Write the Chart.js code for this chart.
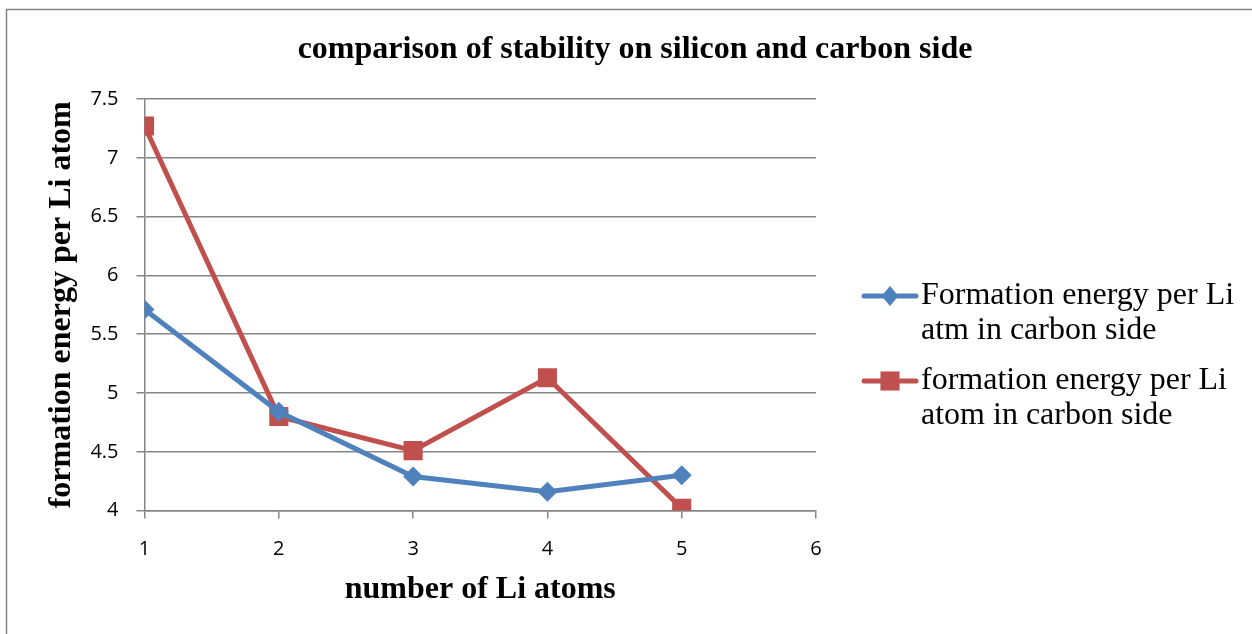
<!DOCTYPE html>
<html>
<head>
<meta charset="utf-8">
<script src="https://cdn.jsdelivr.net/npm/chart.js@4/dist/chart.umd.min.js"></script>
<style>
  html, body { margin: 0; padding: 0; background: #fff; }
  #wrap { width: 1252px; height: 634px; position: relative; }
</style>
</head>
<body>
<div id="wrap"><canvas id="c" width="1252" height="634"></canvas></div>
<script>
const chartTitle = "comparison of stability on silicon and carbon side";
const xTitle = "number of Li atoms";
const yTitle = "formation energy per Li atom";
const liAtoms = [1, 2, 3, 4, 5];
const carbonSideAtm = [5.71, 4.84, 4.29, 4.16, 4.30];
const carbonSideAtom = [7.27, 4.80, 4.51, 5.13, 4.02];
const seriesNames = [
  ["Formation energy per Li", "atm in carbon side"],
  ["formation energy per Li", "atom in carbon side"]
];
const xTicks = [1, 2, 3, 4, 5, 6];
const yTicks = [4, 4.5, 5, 5.5, 6, 6.5, 7, 7.5];

const BLUE = "#4F81BD";
const RED = "#C0504D";
const GRID = "#868686";
const SERIF = "'Liberation Serif', 'Times New Roman', serif";
const SANS = "'Open Sans', 'Liberation Sans', sans-serif";

const borderPlugin = {
  id: 'outerBorder',
  beforeDraw(chart) {
    const ctx = chart.ctx;
    ctx.save();
    ctx.fillStyle = '#fff';
    ctx.fillRect(0, 0, chart.width, chart.height);
    ctx.strokeStyle = '#868686';
    ctx.lineWidth = 1.5;
    ctx.strokeRect(6.5, 9.5, chart.width + 10, chart.height + 10);
    ctx.fillStyle = '#000';
    ctx.font = "bold 32px " + SERIF;
    ctx.textAlign = 'center';
    ctx.textBaseline = 'middle';
    ctx.fillText(chartTitle, 635, 50);
    ctx.restore();
  }
};

const legendPlugin = {
  id: 'customLegend',
  afterDraw(chart) {
    const ctx = chart.ctx;
    ctx.save();
    const items = [
      { color: BLUE, style: 'diamond', r: 10, y: 296 },
      { color: RED, style: 'rect', r: 13.5, y: 381 }
    ];
    items.forEach((it, i) => {
      ctx.strokeStyle = it.color;
      ctx.lineWidth = 5;
      ctx.lineCap = 'round';
      ctx.beginPath();
      ctx.moveTo(864, it.y);
      ctx.lineTo(916, it.y);
      ctx.stroke();
      ctx.fillStyle = it.color;
      ctx.beginPath();
      if (it.style === 'rect') {
        const s = Math.SQRT1_2 * it.r;
        ctx.rect(890 - s, it.y - s, 2 * s, 2 * s);
      } else {
        ctx.moveTo(890, it.y - it.r);
        ctx.lineTo(890 + it.r * 0.85, it.y);
        ctx.lineTo(890, it.y + it.r);
        ctx.lineTo(890 - it.r * 0.85, it.y);
        ctx.closePath();
      }
      ctx.fill();
      ctx.fillStyle = '#000';
      ctx.font = "32px " + SERIF;
      ctx.textBaseline = 'middle';
      ctx.textAlign = 'left';
      seriesNames[i].forEach((line, j) => {
        ctx.fillText(line, 921, it.y + j * 35);
      });
    });
    ctx.restore();
  }
};

new Chart(document.getElementById('c'), {
  type: 'line',
  data: {
    datasets: [
      {
        label: seriesNames[0].join(' '),
        data: liAtoms.map((x, i) => ({ x: x, y: carbonSideAtm[i] })),
        borderColor: BLUE,
        backgroundColor: BLUE,
        borderWidth: 5,
        pointStyle: 'rectRot',
        pointRadius: 10,
        pointHoverRadius: 10,
        pointBorderWidth: 0,
        tension: 0
      },
      {
        label: seriesNames[1].join(' '),
        data: liAtoms.map((x, i) => ({ x: x, y: carbonSideAtom[i] })),
        borderColor: RED,
        backgroundColor: RED,
        borderWidth: 5,
        pointStyle: 'rect',
        pointRadius: 13.5,
        pointHoverRadius: 13.5,
        pointBorderWidth: 0,
        tension: 0
      }
    ]
  },
  options: {
    responsive: false,
    animation: false,
    layout: { padding: { left: 43, right: 436, top: 99, bottom: 25 } },
    plugins: {
      legend: { display: false },
      tooltip: { enabled: false },
      title: { display: false }
    },
    scales: {
      x: {
        type: 'linear',
        min: 1, max: 6,
        afterBuildTicks: (s) => { s.ticks = xTicks.map(v => ({ value: v })); },
        ticks: { color: '#000', font: { family: SANS, size: 20 }, padding: 19 },
        grid: { drawOnChartArea: false, drawTicks: true, tickLength: 8, color: GRID, lineWidth: 1.5 },
        border: { color: GRID, width: 1.5 },
        title: {
          display: true, text: xTitle, color: '#000',
          font: { family: SERIF, size: 32, weight: 'bold' },
          padding: { top: -10, bottom: 0 }
        }
      },
      y: {
        min: 4, max: 7.5,
        afterBuildTicks: (s) => { s.ticks = yTicks.map(v => ({ value: v })); },
        ticks: { color: '#000', font: { family: SANS, size: 20 }, padding: 18, callback: v => String(v) },
        grid: { color: GRID, lineWidth: 1.5, tickLength: 8 },
        border: { color: GRID, width: 1.5 },
        title: {
          display: true, text: yTitle, color: '#000',
          font: { family: SERIF, size: 32, weight: 'bold' },
          padding: { top: 0, bottom: -9 }
        }
      }
    }
  },
  plugins: [borderPlugin, legendPlugin]
});
</script>
</body>
</html>
